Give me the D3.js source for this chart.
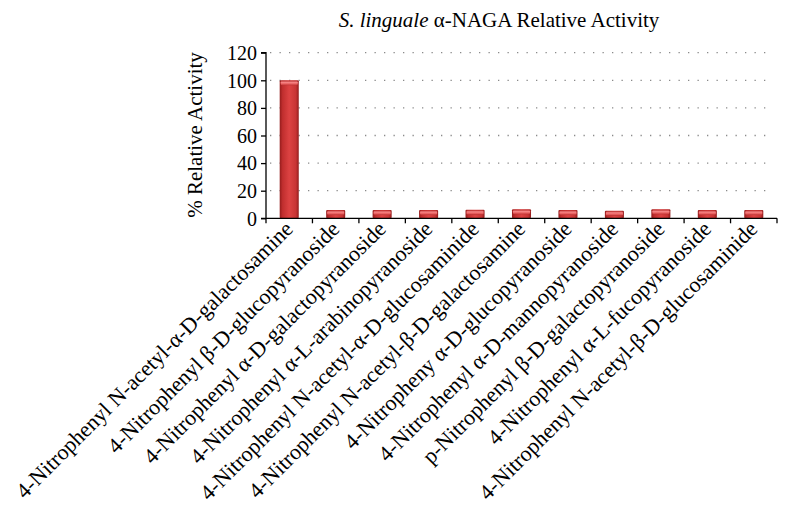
<!DOCTYPE html>
<html><head><meta charset="utf-8">
<script src="https://cdn.jsdelivr.net/npm/d3@7/dist/d3.min.js"></script>
<style>body{margin:0;background:#fff;} svg{display:block;}</style>
</head><body><svg id="c" width="792" height="527"></svg>
<script>
const categories = [
  "4-Nitrophenyl N-acetyl-α-D-galactosamine",
  "4-Nitrophenyl β-D-glucopyranoside",
  "4-Nitrophenyl α-D-galactopyranoside",
  "4-Nitrophenyl α-L-arabinopyranoside",
  "4-Nitrophenyl N-acetyl-α-D-glucosaminide",
  "4-Nitrophenyl N-acetyl-β-D-galactosamine",
  "4-Nitropheny α-D-glucopyranoside",
  "4-Nitrophenyl α-D-mannopyranoside",
  "p-Nitrophenyl β-D-galactopyranoside",
  "4-Nitrophenyl α-L-fucopyranoside",
  "4-Nitrophenyl N-acetyl-β-D-glucosaminide"
];
const values = [100, 6, 6, 6, 6.2, 6.5, 6, 5.5, 6.5, 6, 6];
const yTicks = [0, 20, 40, 60, 80, 100, 120];
const titleItalic = "S. linguale";
const titleRest = " α-NAGA Relative Activity";
const yTitle = "% Relative Activity";

const svg = d3.select("#c");
const font = "'Liberation Serif', 'DejaVu Serif', serif";
const m = {left: 266, right: 777, top: 52.7, bottom: 218.3};

const x = d3.scaleBand().domain(categories).range([m.left, m.right]).paddingInner(0.59).paddingOuter(0.295);
const y = d3.scaleLinear().domain([0, 120]).range([m.bottom, m.top]);

const defs = svg.append("defs");
const g1 = defs.append("linearGradient").attr("id", "barG").attr("x1", "0").attr("x2", "1").attr("y1", "0").attr("y2", "0");
[[0, "#951c1c"], [0.15, "#c02e2e"], [0.5, "#dc4242"], [0.85, "#c83434"], [1, "#921c1c"]].forEach(s =>
  g1.append("stop").attr("offset", s[0]).attr("stop-color", s[1]));
const g2 = defs.append("linearGradient").attr("id", "capG").attr("x1", "0").attr("x2", "0").attr("y1", "0").attr("y2", "1");
[[0, "#b83030"], [0.35, "#f58484"], [0.7, "#e86060"], [1, "#b83030"]].forEach(s =>
  g2.append("stop").attr("offset", s[0]).attr("stop-color", s[1]));

// gridlines
svg.append("g").selectAll("line").data(yTicks.filter(d => d > 0)).join("line")
  .attr("x1", m.left + 4).attr("x2", m.right - 8).attr("y1", d => y(d)).attr("y2", d => y(d))
  .attr("stroke", "#8a8a8a").attr("stroke-width", 1.3).attr("stroke-dasharray", "1.3,8.2");

// bars
const bars = svg.append("g");
bars.selectAll("rect.b").data(values).join("rect").attr("class", "b")
  .attr("x", (d, i) => x(categories[i])).attr("width", x.bandwidth())
  .attr("y", d => y(d)).attr("height", d => y(0) - y(d))
  .attr("fill", "url(#barG)").attr("rx", 1);
bars.selectAll("rect.c").data(values).join("rect").attr("class", "c")
  .attr("x", (d, i) => x(categories[i]) + 1).attr("width", x.bandwidth() - 2)
  .attr("y", d => y(d) + 0.5).attr("height", 4.5)
  .attr("fill", "url(#capG)").attr("rx", 1.5);

// y axis
const yAxis = d3.axisLeft(y).tickValues(yTicks).tickSize(5).tickPadding(4);
const ya = svg.append("g").attr("transform", `translate(${m.left},0)`).call(yAxis);
ya.select(".domain").attr("d", `M-5,${y(120)}H0V${y(0)}`).attr("stroke", "#000").attr("stroke-width", 1.3);
ya.selectAll(".tick line").attr("stroke", "#000").attr("stroke-width", 1.3);
ya.selectAll(".tick text").attr("font-family", font).attr("font-size", 20).attr("fill", "#000").attr("dy", "0.34em");

// x axis
const xa = svg.append("g").attr("transform", `translate(0,${m.bottom})`);
xa.append("line").attr("x1", m.left - 5).attr("x2", m.right).attr("y1", 0).attr("y2", 0).attr("stroke", "#000").attr("stroke-width", 1.3);
const bounds = categories.map(c => x(c) - x.step() * x.paddingInner() / 2).concat([m.right]);
xa.selectAll("line.t").data(bounds).join("line").attr("class", "t")
  .attr("x1", d => d).attr("x2", d => d).attr("y1", 0).attr("y2", 5).attr("stroke", "#000").attr("stroke-width", 1.3);
xa.selectAll("text").data(categories).join("text")
  .attr("transform", c => `translate(${x(c) + x.bandwidth() / 2 + 5},12) rotate(-45)`)
  .attr("text-anchor", "end").attr("font-family", font).attr("font-size", 22).attr("fill", "#000")
  .text(c => c);

// y title
svg.append("text").attr("transform", `translate(202,135) rotate(-90)`).attr("text-anchor", "middle")
  .attr("font-family", font).attr("font-size", 21).attr("fill", "#000").text(yTitle);

// title
const t = svg.append("text").attr("x", 499).attr("y", 27).attr("text-anchor", "middle")
  .attr("font-family", font).attr("font-size", 21).attr("fill", "#000");
t.append("tspan").attr("font-style", "italic").text(titleItalic);
t.append("tspan").text(titleRest);
</script></body></html>
